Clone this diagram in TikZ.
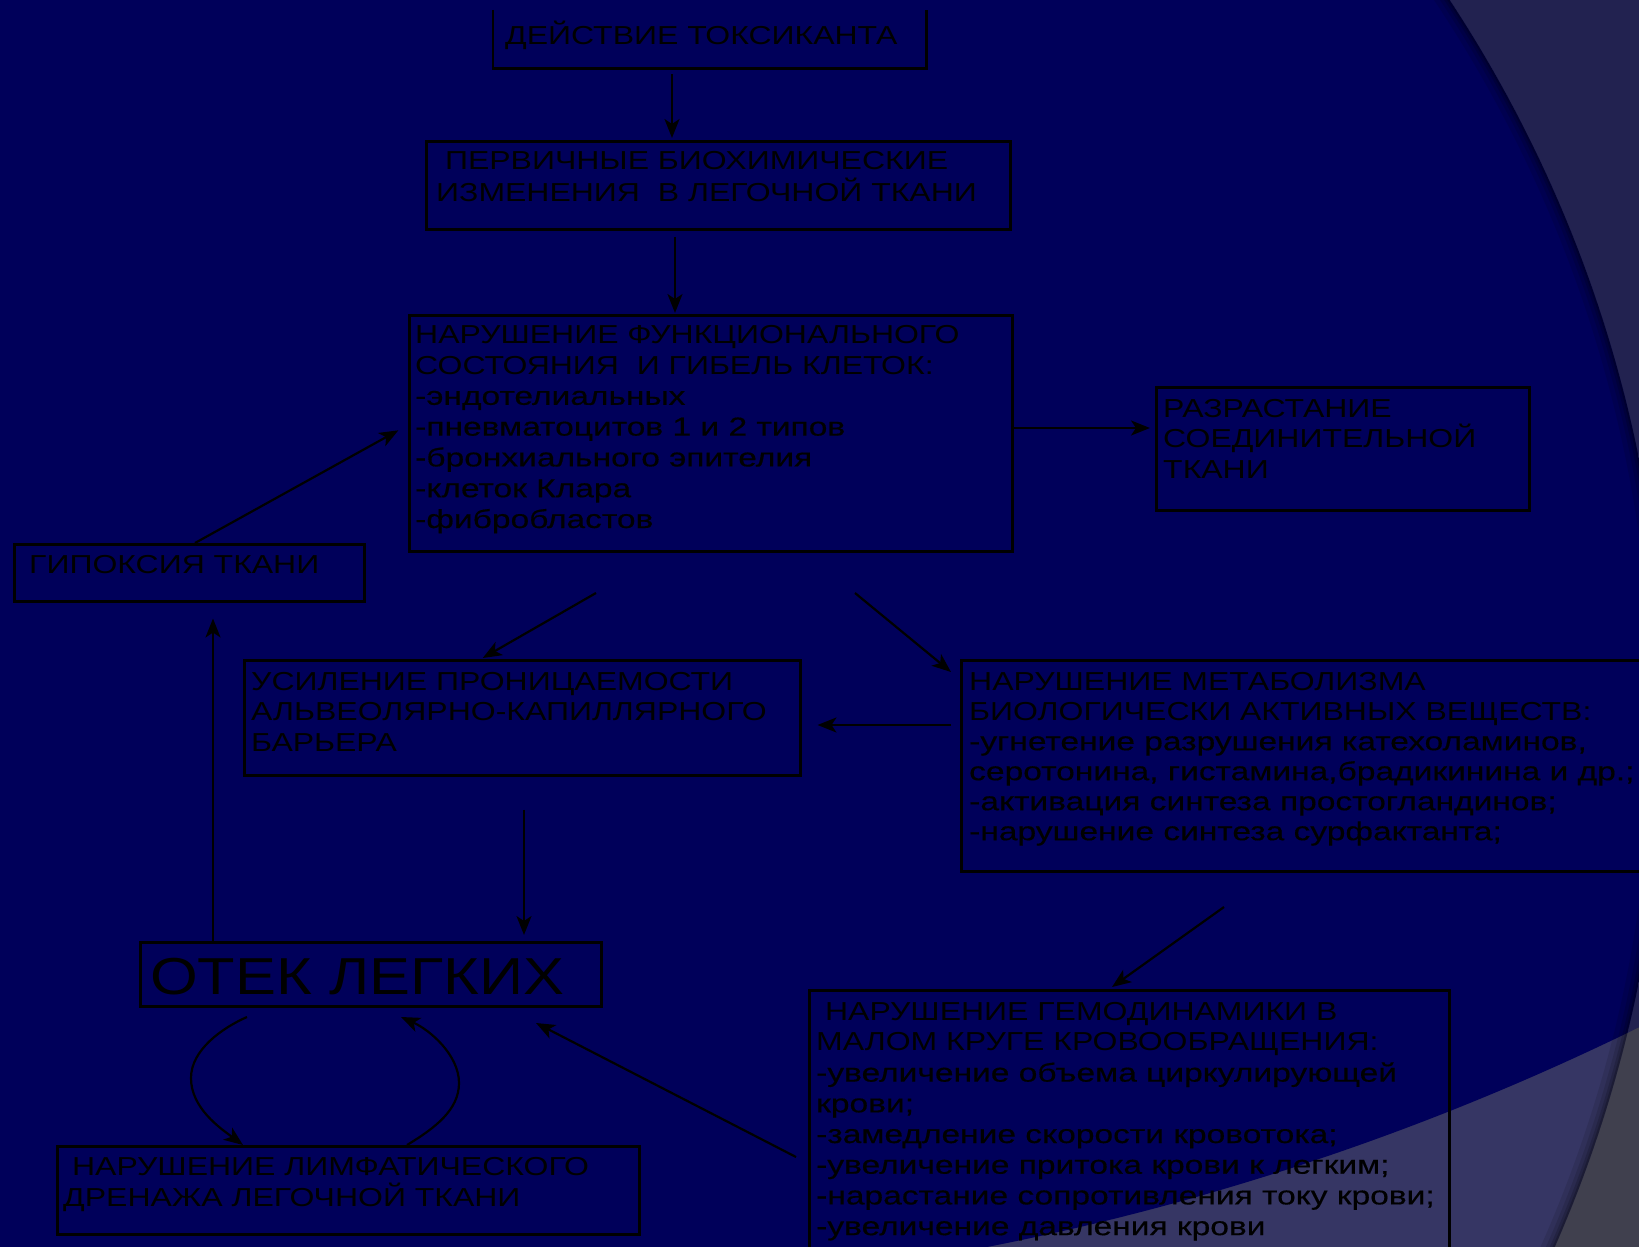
\documentclass[tikz,border=0pt]{standalone}
\usepackage{fontspec}
\setmainfont{Liberation Sans}[FakeStretch=1.23]
\newfontfamily\lcfont{Liberation Sans}[FakeStretch=1.29,FakeBold=0.4]
\newfontfamily\bigfont{Liberation Sans}[FakeStretch=1.18]
\usetikzlibrary{arrows.meta}
\definecolor{navyA}{RGB}{0,0,90}
\definecolor{slateB}{RGB}{34,34,80}
\definecolor{lightC}{RGB}{54,54,100}
\definecolor{greyD}{RGB}{64,64,78}
\begin{document}
\begin{tikzpicture}[x=1pt,y=-1pt,
  box/.style={draw=black,line width=2.5pt,inner sep=0pt,anchor=north west},
  tx/.style={anchor=north west,inner sep=0pt,align=left,text=black},
  arr/.style={draw=black,line width=2.2pt,-{Stealth[length=19pt,width=15pt,inset=5pt]}}]
\useasboundingbox (0,0) rectangle (1639,1247);
\clip (0,0) rectangle (1639,1247);
% background
\fill[greyD] (0,0) rectangle (1639,1247);
\fill[slateB] (474.5,-1349.4) circle[radius=2646];
\begin{scope}
  \clip (355,720) circle[radius=1310];
  \fill[lightC] (0,0) rectangle (1639,1247);
  \fill[navyA] (474.5,-1349.4) circle[radius=2646];
  \foreach \w/\o in {26/0.10,16/0.12,9/0.15,4/0.2}{
    \draw[black,opacity=\o,line width=\w pt] (355,720) circle[radius=1310];
  }
\end{scope}

% boxes
\node[box,draw=none,minimum width=431pt,minimum height=56pt] (b1) at (493,10) {};
\draw[black,line width=2.5pt] (b1.north west) -- (b1.south west) -- (b1.south east) -- (b1.north east);
\node[box,minimum width=584pt,minimum height=88pt] (b2) at (425,140) {};
\node[box,minimum width=603pt,minimum height=236pt] (b3) at (408,314) {};
\node[box,minimum width=373pt,minimum height=123pt] (b4) at (1155,386) {};
\node[box,minimum width=350pt,minimum height=57pt] (b5) at (13,543) {};
\node[box,minimum width=556pt,minimum height=115pt] (b6) at (243,659) {};
\node[box,minimum width=720pt,minimum height=211pt] (b7) at (960,659) {};
\node[box,minimum width=461pt,minimum height=64pt] (b8) at (139,941) {};
\node[box,minimum width=582pt,minimum height=88pt] (b9) at (56,1145) {};
\node[box,minimum width=640pt,minimum height=300pt] (b10) at (808,989) {};

% texts
\node[tx,font=\fontsize{26}{30.7}\selectfont] (t1) at (505,19) {\rule{0pt}{25pt}ДЕЙСТВИЕ ТОКСИКАНТА};
\node[tx,font=\fontsize{26}{32.4}\selectfont] (t2) at (436,144) {\rule{0pt}{25pt}\ ПЕРВИЧНЫЕ БИОХИМИЧЕСКИЕ\\ИЗМЕНЕНИЯ\ \ В ЛЕГОЧНОЙ ТКАНИ};
\node[tx,font=\fontsize{26}{30.8}\selectfont] (t3) at (415,318) {\rule{0pt}{25pt}НАРУШЕНИЕ ФУНКЦИОНАЛЬНОГО\\СОСТОЯНИЯ\ \ И ГИБЕЛЬ КЛЕТОК:\\{\lcfont -эндотелиальных}\\{\lcfont -пневматоцитов 1 и 2 типов}\\{\lcfont -бронхиального эпителия}\\{\lcfont -клеток Клара}\\{\lcfont -фибробластов}};
\node[tx,font=\fontsize{26}{30.5}\selectfont] (t4) at (1163,392) {\rule{0pt}{25pt}РАЗРАСТАНИЕ\\СОЕДИНИТЕЛЬНОЙ\\ТКАНИ};
\node[tx,font=\fontsize{26}{30.7}\selectfont] (t5) at (29,548) {\rule{0pt}{25pt}ГИПОКСИЯ ТКАНИ};
\node[tx,font=\fontsize{26}{30.5}\selectfont] (t6) at (251,665) {\rule{0pt}{25pt}УСИЛЕНИЕ ПРОНИЦАЕМОСТИ\\АЛЬВЕОЛЯРНО-КАПИЛЛЯРНОГО\\БАРЬЕРА};
\node[tx,font=\fontsize{26}{30}\selectfont] (t7) at (969,665) {\rule{0pt}{25pt}НАРУШЕНИЕ МЕТАБОЛИЗМА\\БИОЛОГИЧЕСКИ АКТИВНЫХ ВЕЩЕСТВ:\\{\lcfont -угнетение разрушения катехоламинов,}\\{\lcfont серотонина, гистамина,брадикинина и др.;}\\{\lcfont -активация синтеза простогландинов;}\\{\lcfont -нарушение синтеза сурфактанта;}};
\node[tx,font=\bigfont\fontsize{52}{60}\selectfont] (t8) at (150,944) {\rule{0pt}{50pt}ОТЕК ЛЕГКИХ};
\node[tx,font=\fontsize{26}{31}\selectfont] (t9) at (63,1150) {\rule{0pt}{25pt}\ НАРУШЕНИЕ ЛИМФАТИЧЕСКОГО\\ДРЕНАЖА ЛЕГОЧНОЙ ТКАНИ};
\node[tx,font=\fontsize{26}{30.7}\selectfont] (t10) at (816,995) {\rule{0pt}{25pt}\ НАРУШЕНИЕ ГЕМОДИНАМИКИ В\\МАЛОМ КРУГЕ КРОВООБРАЩЕНИЯ:\\{\lcfont -увеличение объема циркулирующей}\\{\lcfont крови;}\\{\lcfont -замедление скорости кровотока;}\\{\lcfont -увеличение притока крови к легким;}\\{\lcfont -нарастание сопротивления току крови;}\\{\lcfont -увеличение давления крови}};

% helper coordinates
\coordinate (X1) at (672,0);
\coordinate (X2) at (675,0);
\coordinate (Y3) at (0,428);
\coordinate (X4) at (195,0);
\coordinate (Y4) at (0,425);
\coordinate (X5) at (481,0);
\coordinate (c5a) at (596,593);
\coordinate (c6a) at (855,593);
\coordinate (c6b) at (951,672);
\coordinate (Y7) at (0,725);
\coordinate (X8) at (524,0);
\coordinate (X9) at (213,0);
\coordinate (c10a) at (1224,907);
\coordinate (c10b) at (1112,987);
\coordinate (c11a) at (796,1157);
\coordinate (c11b) at (536,1023);
\coordinate (c12a) at (247,1017);
\coordinate (X12) at (243,0);
\coordinate (X13) at (407,0);
\coordinate (c13b) at (401,1017);

% connectors
\draw[arr,shorten <=6pt,shorten >=2pt] (b1.south -| X1) -- (b2.north -| X1);
\draw[arr,shorten <=6pt,shorten >=1pt] (b2.south -| X2) -- (b3.north -| X2);
\draw[arr,shorten >=5pt] (b3.east |- Y3) -- (b4.west |- Y3);
\draw[arr,shorten >=11pt] (b5.north -| X4) -- (b3.west |- Y4);
\draw[arr,shorten >=2pt] (c5a) -- (b6.north -| X5);
\draw[arr] (c6a) -- (c6b);
\draw[arr,shorten <=9pt,shorten >=16pt] (b7.west |- Y7) -- (b6.east |- Y7);
\draw[arr,shorten <=33pt,shorten >=6pt] (b6.south -| X8) -- (b8.north -| X8);
\draw[arr,shorten >=16pt] (b8.north -| X9) -- (b5.south -| X9);
\draw[arr] (c10a) -- (c10b);
\draw[arr] (c11a) -- (c11b);
\draw[arr] (c12a) .. controls (222,1028) and (191,1050) .. (191,1078) .. controls (191,1108) and (220,1128) .. (b9.north -| X12);
\draw[arr] (b9.north -| X13) .. controls (435,1128) and (459,1110) .. (459,1083) .. controls (459,1055) and (430,1030) .. (c13b);
\end{tikzpicture}
\end{document}
